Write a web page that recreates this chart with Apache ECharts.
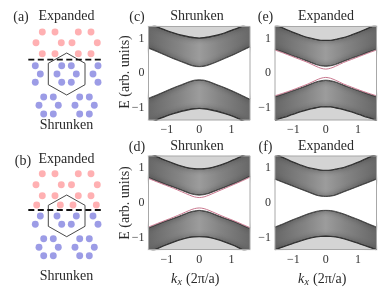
<!DOCTYPE html>
<html><head><meta charset="utf-8">
<style>html,body{margin:0;padding:0;background:#fff}#c{width:390px;height:296px}</style>
<script src="https://cdn.jsdelivr.net/npm/echarts@6/dist/echarts.min.js"></script>
</head><body><div id="c"></div>
<script>
const kx = [-1.57,-1.3,-1.05,-0.8,-0.55,-0.3,-0.15,0,0.15,0.3,0.55,0.8,1.05,1.3,1.57];
const xTicks = [-1,0,1];
const yTicks = [-1,0,1];

const cUpOuter = [1.47,1.34,1.25,1.17,1.10,1.05,1.03,1.02,1.03,1.05,1.10,1.17,1.26,1.35,1.49];
const cUpInner = [0.72,0.62,0.52,0.42,0.33,0.24,0.20,0.19,0.20,0.24,0.33,0.43,0.53,0.64,0.76];
const cLoInner = [-0.72,-0.62,-0.52,-0.42,-0.33,-0.24,-0.20,-0.19,-0.20,-0.24,-0.33,-0.42,-0.52,-0.63,-0.75];
const cLoOuter = [-1.47,-1.34,-1.25,-1.17,-1.10,-1.05,-1.03,-1.02,-1.03,-1.05,-1.10,-1.17,-1.25,-1.35,-1.48];

const dUpOuter = [1.44,1.33,1.23,1.14,1.06,1.00,0.985,0.98,0.985,1.00,1.06,1.14,1.24,1.34,1.46];
const dUpInner = [0.72,0.62,0.53,0.45,0.36,0.27,0.235,0.22,0.235,0.27,0.36,0.45,0.54,0.64,0.76];
const dLoInner = [-0.72,-0.62,-0.53,-0.45,-0.36,-0.27,-0.235,-0.22,-0.235,-0.27,-0.36,-0.45,-0.53,-0.63,-0.74];
const dLoOuter = [-1.44,-1.33,-1.23,-1.14,-1.06,-1.00,-0.985,-0.98,-0.985,-1.00,-1.06,-1.14,-1.23,-1.34,-1.45];
const dUpEdge = [0.70,0.60,0.51,0.42,0.32,0.22,0.17,0.15,0.17,0.22,0.32,0.42,0.52,0.62,0.74];
const dLoEdge = [-0.70,-0.60,-0.51,-0.42,-0.32,-0.22,-0.17,-0.15,-0.17,-0.22,-0.32,-0.42,-0.51,-0.61,-0.72];

const eUpOuter = [1.40,1.30,1.20,1.11,1.03,0.98,0.955,0.95,0.955,0.98,1.03,1.11,1.20,1.30,1.40];
const eUpInner = [0.69,0.60,0.51,0.43,0.34,0.25,0.215,0.20,0.215,0.25,0.34,0.43,0.51,0.60,0.69];
const eLoInner = [-0.67,-0.59,-0.51,-0.43,-0.34,-0.25,-0.215,-0.20,-0.215,-0.25,-0.34,-0.43,-0.51,-0.59,-0.67];
const eLoOuter = [-1.36,-1.28,-1.20,-1.12,-1.05,-1.00,-0.975,-0.97,-0.975,-1.00,-1.05,-1.12,-1.20,-1.28,-1.36];
const eUpEdge = [0.67,0.58,0.49,0.40,0.31,0.20,0.145,0.12,0.145,0.20,0.31,0.40,0.49,0.58,0.67];
const eLoEdge = [-0.65,-0.57,-0.49,-0.40,-0.31,-0.20,-0.145,-0.12,-0.145,-0.20,-0.31,-0.40,-0.49,-0.57,-0.65];

const fUpOuter = [1.40,1.30,1.19,1.10,1.02,0.97,0.945,0.94,0.945,0.97,1.02,1.10,1.19,1.30,1.40];
const fUpInner = [0.68,0.58,0.49,0.40,0.31,0.22,0.19,0.18,0.19,0.22,0.31,0.40,0.49,0.58,0.68];
const fLoInner = [-0.70,-0.60,-0.50,-0.41,-0.32,-0.25,-0.225,-0.22,-0.225,-0.25,-0.32,-0.41,-0.50,-0.60,-0.70];
const fLoOuter = [-1.36,-1.27,-1.19,-1.11,-1.04,-0.99,-0.975,-0.97,-0.975,-0.99,-1.04,-1.11,-1.19,-1.27,-1.36];

const aPink = [[42.3,32],[55,32],[78.3,32],[91,32],[36,42.7],[61.3,42.7],[72,42.7],[97.3,42.7],[42.3,53.7],[55,53.7],[78.3,53.7],[91,53.7]];
const aBlue = [[35.3,65.7],[61.7,65.7],[71.3,65.7],[98,65.7],[40.3,74],[57,74],[76.3,74],[93,74],[35.3,82.3],[61.7,82.3],[71.3,82.3],[98,82.3],[43.7,97],[53.3,97],[79.7,97],[89.3,97],[39,105.3],[58.3,105.3],[75,105.3],[94.3,105.3],[43.7,114],[53.3,114],[79.7,114],[89.3,114]];
const aHex = [[66.7,53],[85,63.3],[85,84.7],[66.7,95],[48.3,84.7],[48.3,63.3],[66.7,53]];
const aCut = [[28.3,59.7],[104,59.7]];
const bPink = [[42.3,173.7],[55,173.7],[78.3,173.7],[91,173.7],[36,184.7],[61.3,184.7],[71.5,184.7],[97.3,184.7],[42.3,195.7],[55,195.7],[78.3,195.7],[91,195.7],[36.7,205],[60.3,205],[73,205],[96.3,205]];
const bBlue = [[40.3,216],[57,216],[76.3,216],[93,216],[35.3,224.3],[61.7,224.3],[71.3,224.3],[98,224.3],[43.7,238.7],[53.3,238.7],[79.7,238.7],[89.3,238.7],[39,247.3],[58.3,247.3],[75,247.3],[94.3,247.3],[43.7,255.7],[53.3,255.7],[79.7,255.7],[89.3,255.7]];
const bHex = [[66.7,195],[85,205.3],[85,226.3],[66.7,236.7],[48.3,226.3],[48.3,205.3],[66.7,195]];
const bCut = [[28.3,210],[104,210]];

const panels = [
 {left:148.5, top:26.5, d:[cUpOuter,cUpInner,cLoInner,cLoOuter]},
 {left:148.5, top:156, d:[dUpOuter,dUpInner,dLoInner,dLoOuter], edge:[dUpEdge,dLoEdge]},
 {left:275, top:26.5, d:[eUpOuter,eUpInner,eLoInner,eLoOuter], edge:[eUpEdge,eLoEdge]},
 {left:275, top:156, d:[fUpOuter,fUpInner,fLoInner,fLoOuter]}
];
const FONT = 'Liberation Serif';
const LIGHT = '#d4d4d4';
const W=101.5,H=93.5;
const bandFill = {type:'linear',x:0,y:0,x2:1,y2:0,colorStops:[
 {offset:0,color:'#686868'},{offset:0.3,color:'#848484'},{offset:0.5,color:'#9c9c9c'},{offset:0.7,color:'#848484'},{offset:1,color:'#686868'}]};
const pts = a => a.map((v,i)=>[kx[i],v]);
const grid=[],xAxis=[],yAxis=[],series=[],frames=[];
const base = {type:'line',symbol:'none',smooth:0.3,silent:true,animation:false};
panels.forEach((p,i)=>{
  grid.push({left:p.left,top:p.top,width:W,height:H,show:true,borderWidth:0,backgroundColor:LIGHT});
  frames.push({type:'rect',shape:{x:p.left,y:p.top,width:W,height:H},silent:true,z:9,style:{fill:'none',stroke:'#a8a8a8',lineWidth:1}});
  xAxis.push({gridIndex:i,type:'value',min:-1.57,max:1.57,splitLine:{show:false},axisLine:{show:false},
    axisTick:{inside:true,length:2,customValues:xTicks,lineStyle:{color:'#777',width:0.7}},
    axisLabel:{customValues:xTicks,fontFamily:FONT,fontSize:12,color:'#333',margin:4,formatter:v=>String(v).replace('-','\u2212')}});
  yAxis.push({gridIndex:i,type:'value',min:-1.35,max:1.35,splitLine:{show:false},axisLine:{show:false},
    axisTick:{inside:true,length:2,customValues:yTicks,lineStyle:{color:'#777',width:0.7}},
    axisLabel:{customValues:yTicks,fontFamily:FONT,fontSize:12,color:'#333',margin:4,formatter:v=>String(v).replace('-','\u2212')}});
  const ax={xAxisIndex:i,yAxisIndex:i};
  const [uo,ui,li,lo]=p.d;
  // band body
  series.push({...base,...ax,z:2,data:pts(uo),lineStyle:{width:0},areaStyle:{color:bandFill,opacity:1,origin:'start'}});
  // soft shading hugging the band edges
  [uo,ui,li,lo].forEach(a=>series.push({...base,...ax,z:3,data:pts(a),
    lineStyle:{color:'#3a3a3a',width:1.5,shadowBlur:5,shadowColor:'#333'}}));
  // light outside regions
  series.push({...base,...ax,z:4,data:pts(uo),lineStyle:{color:'#303030',width:1.1},areaStyle:{color:LIGHT,opacity:1,origin:'end'}});
  series.push({...base,...ax,z:4,data:pts(lo),lineStyle:{color:'#303030',width:1.1},areaStyle:{color:LIGHT,opacity:1,origin:'start'}});
  // white gap between the two inner band edges
  series.push({type:'custom',...ax,z:4,silent:true,animation:false,coordinateSystem:'cartesian2d',
    data:ui.map((v,j)=>[kx[j],v,li[j]]),encode:{x:0,y:[1,2]},
    renderItem:(params,api)=>{
      if(params.dataIndex!==0) return null;
      const top=ui.map((v,j)=>api.coord([kx[j],v]));
      const bot=li.map((v,j)=>api.coord([kx[j],v])).reverse();
      return {type:'polygon',shape:{points:top.concat(bot)},style:{fill:'#fff'}};
    }});
  series.push({...base,...ax,z:5,data:pts(ui),lineStyle:{color:'#404040',width:0.9}});
  series.push({...base,...ax,z:5,data:pts(li),lineStyle:{color:'#404040',width:0.9}});
  if(p.edge) p.edge.forEach(a=>series.push({...base,...ax,z:5,data:pts(a),lineStyle:{color:'#c9788f',width:1}}));
});
// schematic layer in page pixels
grid.push({left:0,top:0,width:390,height:296,show:false});
xAxis.push({gridIndex:4,type:'value',min:0,max:390,show:false});
yAxis.push({gridIndex:4,type:'value',min:0,max:296,inverse:true,show:false});
const sAx={xAxisIndex:4,yAxisIndex:4,silent:true,animation:false};
[[aPink,'#ffb0b2'],[bPink,'#ffb0b2'],[aBlue,'#9c9ce6'],[bBlue,'#9c9ce6']].forEach(([d,c])=>
  series.push({...sAx,type:'scatter',data:d,symbolSize:6.9,itemStyle:{color:c,opacity:1}}));
[aHex,bHex].forEach(d=>series.push({...sAx,type:'line',symbol:'none',data:d,lineStyle:{color:'#333',width:0.9}}));
[aCut,bCut].forEach(d=>series.push({...sAx,type:'line',symbol:'none',data:d,lineStyle:{color:'#111',width:1.8,type:[6,3.5]}}));

const T=(text,x,y,o={})=>({type:'text',x,y,rotation:o.rot||0,silent:true,z:10,
  style:{text,fontFamily:FONT,fontSize:o.size||14,fontStyle:o.style||'normal',fill:'#2a2a2a',align:o.align||'center',verticalAlign:'middle'}});
const graphic=[...frames,
 T('(a)',21,17),T('Expanded',66.5,16),T('Shrunken',66.5,125),
 T('(b)',23,161),T('Expanded',66.5,159.5),T('Shrunken',66.5,276),
 T('(c)',137,17),T('Shrunken',197,16),
 T('(e)',265.5,17),T('Expanded',326,16),
 T('(d)',137,147),T('Shrunken',197,146),
 T('(f)',265.5,147),T('Expanded',326,146),
 T('E (arb. units)',125,72,{rot:Math.PI/2}),T('E (arb. units)',125,203,{rot:Math.PI/2}),
];
[171,298].forEach(x=>{
 graphic.push(T('k',x,279,{style:'italic',align:'left'}),T('x',x+6.5,282,{style:'italic',size:10,align:'left'}),T('(2\u03c0/a)',x+15,279,{align:'left'}));
});
const chart=echarts.init(document.getElementById('c'),null,{renderer:'canvas'});
chart.setOption({animation:false,backgroundColor:'#fff',grid,xAxis,yAxis,series,graphic:{elements:graphic}});
</script></body></html>
